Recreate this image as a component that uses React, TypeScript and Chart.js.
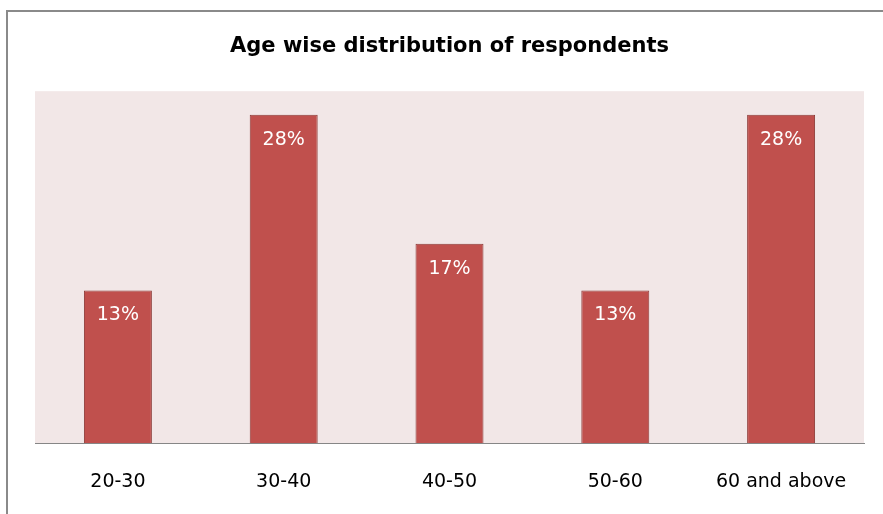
import React, { useEffect, useRef } from "react";
import { Chart, registerables } from "chart.js";

Chart.register(...registerables);

const categories = ["20-30", "30-40", "40-50", "50-60", "60 and above"];
const values = [13, 28, 17, 13, 28];
const valueLabels = ["13%", "28%", "17%", "13%", "28%"];
const titleText = "Age wise distribution of respondents";

const framePlugin = {
  id: "frameAndBg",
  beforeDraw(chart: any) {
    const { ctx, chartArea, width, height } = chart;
    ctx.save();
    ctx.fillStyle = "#ffffff";
    ctx.fillRect(0, 0, width, height);
    ctx.fillStyle = "#8a8a8a";
    ctx.fillRect(6, 10, width - 6, 2);
    ctx.fillRect(6, 10, 2, height - 10);
    ctx.fillStyle = "#f2e7e7";
    ctx.fillRect(chartArea.left, chartArea.top, chartArea.right - chartArea.left, chartArea.bottom - chartArea.top);
    ctx.restore();
  },
  afterDatasetsDraw(chart: any) {
    const { ctx } = chart;
    const meta = chart.getDatasetMeta(0);
    ctx.save();
    ctx.fillStyle = "#ffffff";
    ctx.font = "19px 'DejaVu Sans'";
    ctx.textAlign = "center";
    ctx.textBaseline = "middle";
    meta.data.forEach((bar: any, i: number) => {
      ctx.fillText(valueLabels[i], bar.x, bar.y + 25);
    });
    ctx.restore();
  },
};

export default function App() {
  const ref = useRef<HTMLCanvasElement | null>(null);
  useEffect(() => {
    document.body.style.margin = "0";
    const chart = new Chart(ref.current as HTMLCanvasElement, {
      type: "bar",
      data: {
        labels: categories,
        datasets: [
          {
            data: values,
            backgroundColor: "#c0504d",
            borderColor: "#8c3a37",
            borderWidth: 1,
            borderSkipped: "start",
            barPercentage: 0.41,
            categoryPercentage: 1,
          },
        ],
      },
      options: {
        animation: false,
        responsive: false,
        maintainAspectRatio: false,
        layout: { padding: { left: 35, right: 19, top: 0, bottom: 22 } },
        plugins: {
          legend: { display: false },
          tooltip: { enabled: false },
          title: {
            display: true,
            text: titleText,
            color: "#000000",
            font: { family: "'DejaVu Sans'", size: 21, weight: "bold" },
            padding: { top: 34, bottom: 32 },
          },
        },
        scales: {
          x: {
            grid: { display: false, drawTicks: false },
            border: { display: true, color: "#868686", width: 1 },
            ticks: {
              color: "#000000",
              font: { family: "'DejaVu Sans'", size: 19 },
              padding: 28,
              maxRotation: 0,
            },
            afterFit: (scale: any) => {
              scale.height = 49;
            },
          },
          y: {
            display: false,
            min: 0,
            max: 30,
          },
        },
      },
      plugins: [framePlugin],
    });
    return () => chart.destroy();
  }, []);
  return (
    <div style={{ width: 883, height: 514 }}>
      <canvas ref={ref} width={883} height={514} style={{ display: "block" }} />
    </div>
  );
}
